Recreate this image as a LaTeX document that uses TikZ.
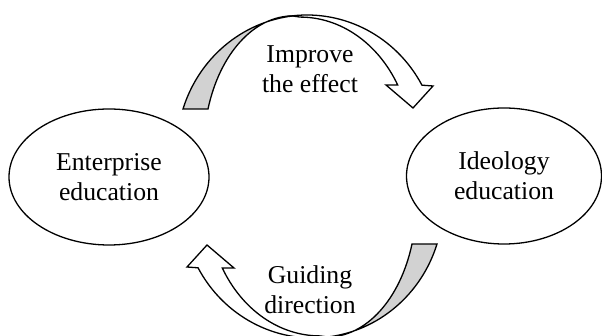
\documentclass[tikz,border=0pt]{standalone}
\usepackage{fontspec}
\setmainfont{Liberation Serif}
\usepackage{tikz}
\usetikzlibrary{shapes.geometric}
\definecolor{bandgray}{RGB}{210,210,210}

\begin{document}
\begin{tikzpicture}[x=1pt, y=1pt, line width=1.3pt,
  txt/.style={font=\fontsize{25.7pt}{30pt}\selectfont, align=center},
  edu/.style={txt, draw, ellipse, inner sep=0pt, minimum height=136pt}]
\useasboundingbox (0,0) rectangle (602,336);
%%%%% Ellipses %%%%%
\node[edu, minimum width=200pt] (ent) at (109,159) {Enterprise\\education};
\node[edu, minimum width=195pt] (ide) at (504,160) {Ideology\\education};
%%%%% Curved arrows %%%%%
\foreach \r in {0,180}{
\begin{scope}[rotate around={\r:(310,159.5)}]
\filldraw[fill=bandgray] (183,227) arc[start angle=162.3, end angle=96.6, x radius=131pt, y radius=135pt]
  arc[start angle=90, end angle=162.2, x radius=89pt, y radius=134pt] -- cycle;
\filldraw[fill=white] (292,320.1) arc[start angle=96.6, end angle=28.7, x radius=131pt, y radius=135pt]
  -- (433,250) -- (413,228) -- (386,251) -- (397.7,251)
  arc[start angle=29.3, end angle=90, x radius=112pt, y radius=133pt] -- cycle;
\end{scope}
}
%%%%% Labels %%%%%
\node[txt] (improve) at (310,267) {Improve\\the effect};
\node[txt] (guide) at (310,46) {Guiding\\direction};
\end{tikzpicture}
\end{document}
